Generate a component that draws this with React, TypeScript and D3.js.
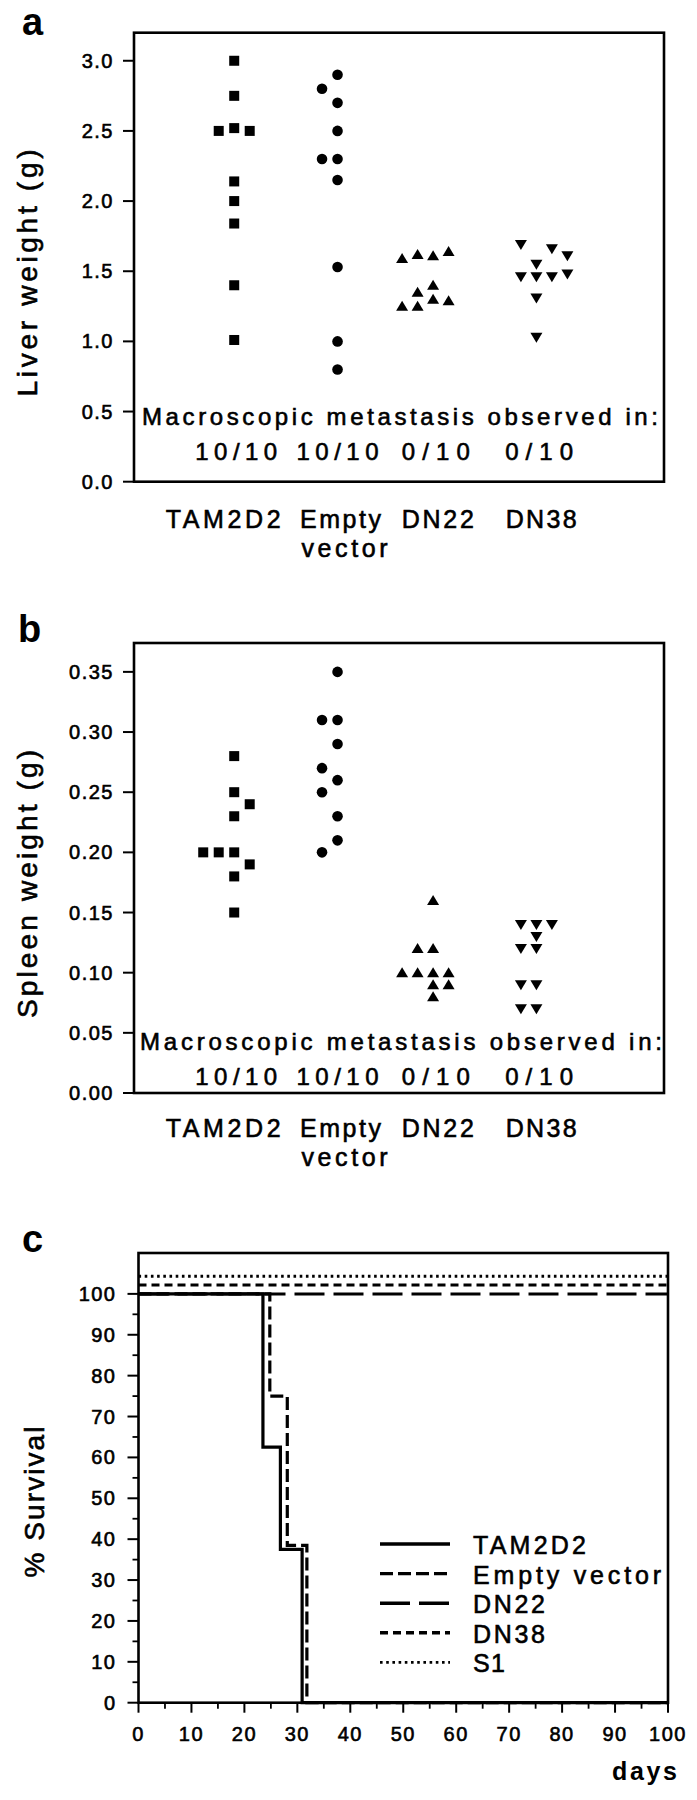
import React from 'react'
import * as d3 from 'd3'

// groups of mice, same order in panels a and b
const groups = ['TAM2D2', 'Empty vector', 'DN22', 'DN38']
const fractions = ['10/10', '10/10', '0/10', '0/10']
const shapes = ['square', 'circle', 'triUp', 'triDown']

// liver weight (g); slot = column inside the dot cluster
const liverTAM2D2 = [3.0, 2.75, 2.5, 2.52, 2.5, 2.14, 2.0, 1.84, 1.4, 1.01]
const liverTAM2D2Slot = [0, 0, -1, 0, 1, 0, 0, 0, 0, 0]
const liverEmpty = [2.9, 2.8, 2.7, 2.5, 2.3, 2.3, 2.15, 1.53, 1.0, 0.8]
const liverEmptySlot = [0, -1, 0, 0, -1, 0, 0, 0, 0, 0]
const liverDN22 = [1.59, 1.62, 1.61, 1.64, 1.35, 1.4, 1.25, 1.25, 1.3, 1.29]
const liverDN22Slot = [-2.5, -1.5, -0.5, 0.5, -1.5, -0.5, -2.5, -1.5, -0.5, 0.5]
const liverDN38 = [1.69, 1.66, 1.61, 1.55, 1.46, 1.46, 1.46, 1.48, 1.31, 1.03]
const liverDN38Slot = [-1.5, 0.5, 1.5, -0.5, -1.5, -0.5, 0.5, 1.5, -0.5, -0.5]

// spleen weight (g)
const spleenTAM2D2 = [0.28, 0.25, 0.24, 0.23, 0.2, 0.2, 0.2, 0.19, 0.18, 0.15]
const spleenTAM2D2Slot = [0, 0, 1, 0, -2, -1, 0, 1, 0, 0]
const spleenEmpty = [0.35, 0.31, 0.31, 0.29, 0.27, 0.26, 0.25, 0.23, 0.21, 0.2]
const spleenEmptySlot = [0, -1, 0, 0, -1, 0, -1, 0, 0, -1]
const spleenDN22 = [0.16, 0.12, 0.12, 0.1, 0.1, 0.1, 0.1, 0.09, 0.09, 0.08]
const spleenDN22Slot = [-0.5, -1.5, -0.5, -2.5, -1.5, -0.5, 0.5, -0.5, 0.5, -0.5]
const spleenDN38 = [0.14, 0.14, 0.14, 0.13, 0.12, 0.12, 0.09, 0.09, 0.07, 0.07]
const spleenDN38Slot = [-1.5, -0.5, 0.5, -0.5, -1.5, -0.5, -1.5, -0.5, -1.5, -0.5]

// survival curves (% survival vs days)
const survSeries = ['TAM2D2', 'Empty vector', 'DN22', 'DN38', 'S1']
const daysTAM2D2 = [0, 23.5, 26.8, 30.9, 100]
const survTAM2D2 = [100, 62.5, 37.5, 0, 0]
const daysEmpty = [0, 24.8, 28.1, 31.8, 100]
const survEmpty = [100, 75, 38.5, 0, 0]
const daysDN22 = [0, 100]
const survDN22 = [100, 100]
const daysDN38 = [0, 100]
const survDN38 = [102.2, 102.2]
const daysS1 = [0, 100]
const survS1 = [104.3, 104.3]

const FONT = '"Liberation Sans", Arial, Helvetica, sans-serif'
const txt = { fontFamily: FONT, fill: '#000', stroke: '#000', strokeWidth: 0.6 }

const xDot = d3.scaleLinear().domain([0.03, 5.16]).range([134, 664])
const slotW = 0.15

function Marker({ shape, cx, cy }) {
  if (shape === 'square') return <rect x={cx - 5} y={cy - 5} width={10} height={10} fill="#000" />
  if (shape === 'circle') return <circle cx={cx} cy={cy} r={5.3} fill="#000" />
  if (shape === 'triUp') return <path d={`M${cx - 6},${cy + 4.5}L${cx + 6},${cy + 4.5}L${cx},${cy - 5.5}Z`} fill="#000" />
  return <path d={`M${cx - 6},${cy - 4.5}L${cx + 6},${cy - 4.5}L${cx},${cy + 5.5}Z`} fill="#000" />
}

function DotPanel({ p }) {
  const y = d3.scaleLinear().domain([0, p.yMax]).range([p.bottom, p.top])
  const ticks = d3.range(0, p.tickMax + 1e-9, p.step)
  const fmt = d3.format(p.fmt)
  const [x0, x1] = xDot.range()
  const catDx = [-11, 3, -3, -3]
  const catLen = [115, 81, 72, 71]
  const fracDx = [2, 0, -5, -5]
  return (
    <g>
      <text x={p.lx} y={p.ly} fontSize={38} fontWeight="bold" fontFamily={FONT}>{p.letter}</text>
      <rect x={x0} y={p.top} width={x1 - x0} height={p.bottom - p.top} fill="none" stroke="#000" strokeWidth={2.6} />
      {ticks.map(t => (
        <g key={t}>
          <line x1={x0 - 11} x2={x0} y1={y(t)} y2={y(t)} stroke="#000" strokeWidth={2} />
          <text x={x0 - 20} y={y(t) + 7} fontSize={20} textAnchor="end" letterSpacing={1.5} {...txt}>{fmt(t)}</text>
        </g>
      ))}
      <text transform={`translate(37,${p.titleY}) rotate(-90)`} fontSize={28} textAnchor="middle"
        textLength={p.titleLen} lengthAdjust="spacing" {...txt}>{p.title}</text>
      {p.series.map((s, gi) => s.values.map((v, i) => (
        <Marker key={gi + '-' + i} shape={shapes[gi]} cx={xDot(gi + 1 + s.slots[i] * slotW)} cy={y(v)} />
      )))}
      <text x={p.noteX0} y={p.noteY} fontSize={24} textLength={p.noteX1 - p.noteX0} lengthAdjust="spacing" {...txt}>
        Macroscopic metastasis observed in:
      </text>
      {fractions.map((f, i) => (
        <text key={i} x={xDot(i + 1) + fracDx[i]} y={p.noteY + 35} fontSize={24} textAnchor="middle"
          textLength={f.length > 4 ? 82 : 68} lengthAdjust="spacing" {...txt}>{f}</text>
      ))}
      {groups.map((g, i) => {
        const parts = g.split(' ')
        return (
          <g key={g}>
            <text x={xDot(i + 1) + catDx[i]} y={p.catY} fontSize={25} textAnchor="middle"
              textLength={catLen[i]} lengthAdjust="spacing" {...txt}>{parts[0]}</text>
            {parts[1] && (
              <text x={xDot(i + 1) + catDx[i] + 4} y={p.catY + 29} fontSize={25} textAnchor="middle"
                textLength={86} lengthAdjust="spacing" {...txt}>{parts[1]}</text>
            )}
          </g>
        )
      })}
    </g>
  )
}

function SurvivalPanel() {
  const x = d3.scaleLinear().domain([0, 100]).range([138.5, 668])
  const y = d3.scaleLinear().domain([0, 110]).range([1702.7, 1253])
  const line = d3.line().x(d => x(d[0])).y(d => y(d[1])).curve(d3.curveStepAfter)
  const data = [
    [daysTAM2D2, survTAM2D2],
    [daysEmpty, survEmpty],
    [daysDN22, survDN22],
    [daysDN38, survDN38],
    [daysS1, survS1],
  ]
  const dashes = [null, '13 5', '30 9', '8 5', '2.6 3.6']
  const widths = [3.2, 3.2, 3, 3, 3]
  const legendLen = [113, 188, 72, 72, 32]
  const order = [2, 3, 4, 1, 0]
  const majors = d3.range(0, 101, 10)
  const minors = d3.range(5, 100, 10)
  const [ax0, ax1] = x.range()
  return (
    <g>
      <text x={22} y={1252} fontSize={38} fontWeight="bold" fontFamily={FONT}>c</text>
      <rect x={ax0} y={1253} width={ax1 - ax0} height={1702.7 - 1253} fill="none" stroke="#000" strokeWidth={2.6} />
      {majors.map(t => (
        <g key={'y' + t}>
          <line x1={ax0 - 11} x2={ax0} y1={y(t)} y2={y(t)} stroke="#000" strokeWidth={2} />
          <text x={ax0 - 22} y={y(t) + 7} fontSize={20} textAnchor="end" letterSpacing={1.5} {...txt}>{t}</text>
          <line x1={x(t)} x2={x(t)} y1={y(0)} y2={y(0) + 10} stroke="#000" strokeWidth={2} />
          <text x={x(t)} y={1741} fontSize={20} textAnchor="middle" letterSpacing={1.5} {...txt}>{t}</text>
        </g>
      ))}
      {minors.map(t => (
        <g key={'m' + t}>
          <line x1={ax0 - 6} x2={ax0} y1={y(t)} y2={y(t)} stroke="#000" strokeWidth={1.8} />
          <line x1={x(t)} x2={x(t)} y1={y(0)} y2={y(0) + 6} stroke="#000" strokeWidth={1.8} />
        </g>
      ))}
      <text transform="translate(44,1502) rotate(-90)" fontSize={28} textAnchor="middle"
        textLength={151} lengthAdjust="spacing" {...txt}>% Survival</text>
      <text x={677} y={1780} fontSize={25} fontWeight="bold" textAnchor="end"
        textLength={65} lengthAdjust="spacing" fontFamily={FONT}>days</text>
      {order.map(i => (
        <path key={i} d={line(data[i][0].map((d, k) => [d, data[i][1][k]]))} fill="none" stroke="#000"
          strokeWidth={widths[i]} strokeDasharray={dashes[i] || undefined} />
      ))}
      {survSeries.map((s, i) => {
        const ly = 1544 + i * 29.6
        return (
          <g key={s}>
            <line x1={380} x2={450} y1={ly} y2={ly} stroke="#000" strokeWidth={i === 4 ? 2.6 : 3.4}
              strokeDasharray={dashes[i] || undefined} />
            <text x={473} y={ly + 10} fontSize={25} textLength={legendLen[i]} lengthAdjust="spacing" {...txt}>{s}</text>
          </g>
        )
      })}
    </g>
  )
}

const panelA = {
  letter: 'a', lx: 22, ly: 35,
  top: 32.7, bottom: 481.7, yMax: 3.2, tickMax: 3.0, step: 0.5, fmt: '.1f',
  title: 'Liver weight (g)', titleY: 273, titleLen: 247,
  noteX0: 142, noteX1: 658, noteY: 425, catY: 528,
  series: [
    { values: liverTAM2D2, slots: liverTAM2D2Slot },
    { values: liverEmpty, slots: liverEmptySlot },
    { values: liverDN22, slots: liverDN22Slot },
    { values: liverDN38, slots: liverDN38Slot },
  ],
}

const panelB = {
  letter: 'b', lx: 18, ly: 642,
  top: 643, bottom: 1093, yMax: 0.374, tickMax: 0.35, step: 0.05, fmt: '.2f',
  title: 'Spleen weight (g)', titleY: 884, titleLen: 268,
  noteX0: 140, noteX1: 662, noteY: 1050, catY: 1137,
  series: [
    { values: spleenTAM2D2, slots: spleenTAM2D2Slot },
    { values: spleenEmpty, slots: spleenEmptySlot },
    { values: spleenDN22, slots: spleenDN22Slot },
    { values: spleenDN38, slots: spleenDN38Slot },
  ],
}

export default function App() {
  return (
    <svg width={697} height={1800} style={{ position: 'absolute', left: 0, top: 0, background: '#fff' }}>
      <DotPanel p={panelA} />
      <DotPanel p={panelB} />
      <SurvivalPanel />
    </svg>
  )
}
